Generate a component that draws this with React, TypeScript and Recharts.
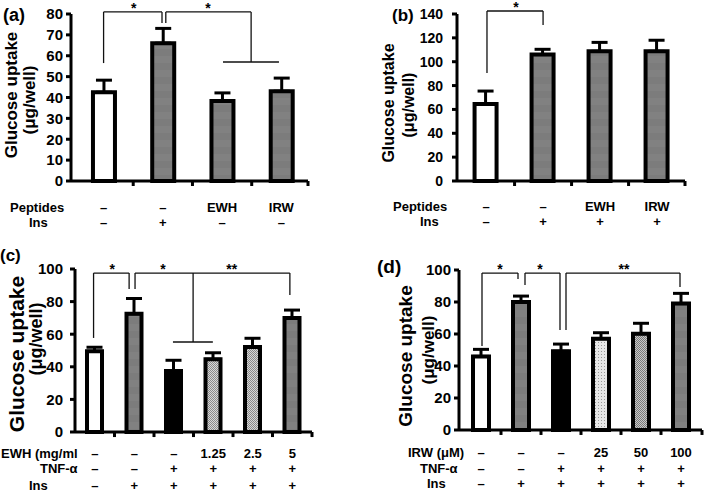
import React from 'react';
import { BarChart, Bar, XAxis, YAxis, ErrorBar, Cell, ReferenceLine, ReferenceDot } from 'recharts';

const FONT = '"Liberation Sans", Arial, Helvetica, sans-serif';

// ---------- Panel (a) ----------
const groupsA = [1, 2, 3, 4];
const uptakeA = [42.5, 66, 38.3, 43];
const errorA = [5.8, 7.1, 3.9, 6.3];
const peptidesA = ['–', '–', 'EWH', 'IRW'];
const insA = ['–', '+', '–', '–'];
const yTicksA = [0, 10, 20, 30, 40, 50, 60, 70, 80];
const bracketsA = [
  [1.0, 56.5, 1.0, 81], [1.0, 81, 1.986, 81], [1.986, 81, 1.986, 75.7],
  [2.05, 75.7, 2.05, 81], [2.05, 81, 3.49, 81], [3.49, 81, 3.49, 57], [3.015, 57, 3.96, 57],
];
const starsA: [number, number, string][] = [[1.51, 81, '*'], [2.76, 81, '*']];

// ---------- Panel (b) ----------
const groupsB = [1, 2, 3, 4];
const uptakeB = [64.5, 106, 108.7, 108.7];
const errorB = [10.9, 4.4, 7.5, 9.3];
const peptidesB = ['–', '–', 'EWH', 'IRW'];
const insB = ['–', '+', '+', '+'];
const yTicksB = [0, 20, 40, 60, 80, 100, 120, 140];
const bracketsB = [
  [1.016, 90.5, 1.016, 142.5], [1.016, 142.5, 2.0, 142.5], [2.0, 142.5, 2.0, 130.8],
];
const starsB: [number, number, string][] = [[1.525, 142.5, '*']];

// ---------- Panel (c) ----------
const groupsC = [1, 2, 3, 4, 5, 6];
const uptakeC = [49.5, 72.5, 37.5, 44.6, 52.1, 70];
const errorC = [2.5, 9.4, 6.5, 4, 5.4, 4.8];
const ewhC = ['–', '–', '–', '1.25', '2.5', '5'];
const tnfC = ['–', '–', '+', '+', '+', '+'];
const insC = ['–', '+', '+', '+', '+', '+'];
const yTicksC = [0, 20, 40, 60, 80, 100];
const bracketsC = [
  [0.97, 57.7, 0.97, 97.5], [0.97, 97.5, 1.87, 97.5], [1.87, 97.5, 1.87, 87.7],
  [2.02, 87.7, 2.02, 97.5], [2.02, 97.5, 5.94, 97.5], [5.94, 97.5, 5.94, 84],
  [3.49, 97.5, 3.49, 55.2], [2.98, 55.2, 3.99, 55.2],
];
const starsC: [number, number, string][] = [[1.44, 97.5, '*'], [2.73, 97.5, '*'], [4.47, 97.5, '**']];

// ---------- Panel (d) ----------
const groupsD = [1, 2, 3, 4, 5, 6];
const uptakeD = [46, 80, 49.2, 57.1, 60.2, 79];
const errorD = [4.4, 3.7, 4.5, 3.7, 6.5, 6.4];
const irwD = ['–', '–', '–', '25', '50', '100'];
const tnfD = ['–', '–', '+', '+', '+', '+'];
const insD = ['–', '+', '+', '+', '+', '+'];
const yTicksD = [0, 20, 40, 60, 80, 100];
const bracketsD = [
  [1.025, 52.5, 1.025, 98.1], [1.025, 98.1, 1.925, 98.1], [1.925, 98.1, 1.925, 94.4],
  [2.1, 90.6, 2.1, 98.1], [2.1, 98.1, 2.975, 98.1], [2.975, 98.1, 2.975, 62.5],
  [3.125, 62.5, 3.125, 98.1], [3.125, 98.1, 5.975, 98.1], [5.975, 98.1, 5.975, 89.4],
];
const starsD: [number, number, string][] = [[1.475, 98.1, '*'], [2.475, 98.1, '*'], [4.575, 98.1, '**']];

// ---------- Styles ----------
const fillsA = ['#ffffff', 'url(#grayBand)', 'url(#grayBand)', 'url(#grayBand)'];
const fillsB = ['#ffffff', 'url(#grayBand)', 'url(#grayBand)', 'url(#grayBand)'];
const fillsC = ['#ffffff', 'url(#grayBand)', '#000000', 'url(#chkLight)', 'url(#chkLight)', 'url(#grayBand)'];
const fillsD = ['#ffffff', 'url(#grayBand)', '#000000', 'url(#dotLight)', 'url(#chkMid)', 'url(#grayBand)'];

const build = (groups: number[], vals: number[], errs: number[]) =>
  groups.map((g, i) => ({ g, v: vals[i], e: [0, errs[i]] }));

const makeRowTick = (rows: string[][], rowYs: number[]) => (props: any) => {
  const idx = Math.round(props.payload.value) - 1;
  return (
    <g>
      {rows.map((r, i) => (
        <text key={i} x={props.x} y={rowYs[i]} textAnchor="middle" dominantBaseline="central"
          fontSize={13} fontWeight="bold" fontFamily={FONT} fill="#000">{r[idx]}</text>
      ))}
    </g>
  );
};

type PanelProps = {
  left: number; top: number; width: number; height: number;
  yAxisWidth: number; marginTop: number; marginRight: number; axisHeight: number;
  xDomain: [number, number]; xBounds: number[]; tickLen: number; groups: number[];
  yDomain: [number, number]; yTicks: number[]; tickFont: number; tickMargin: number;
  data: any[]; fills: string[]; barSize: number;
  brackets: number[][]; stars: [number, number, string][];
  rows: string[][]; rowYs: number[];
};

function Panel(p: PanelProps) {
  return (
    <div style={{ position: 'absolute', left: p.left, top: p.top, width: p.width, height: p.height }}>
      <BarChart width={p.width} height={p.height} data={p.data}
        margin={{ top: p.marginTop, right: p.marginRight, bottom: 0, left: 0 }}>
        <XAxis dataKey="g" type="number" domain={p.xDomain} ticks={p.groups} interval={0}
          allowDataOverflow axisLine={{ stroke: '#000', strokeWidth: 3 }} tickLine={false}
          height={p.axisHeight} tick={makeRowTick(p.rows, p.rowYs)} />
        <YAxis type="number" domain={p.yDomain} ticks={p.yTicks} interval={0} width={p.yAxisWidth}
          axisLine={{ stroke: '#000', strokeWidth: 3 }} tickLine={{ stroke: '#000', strokeWidth: 3 }}
          tickSize={5} tickMargin={p.tickMargin}
          tick={{ fontSize: p.tickFont, fontWeight: 'bold', fill: '#000', fontFamily: FONT }} />
        {p.xBounds.map((b, i) => (
          <ReferenceLine key={'t' + i} ifOverflow="visible"
            segment={[{ x: b, y: 0 }, { x: b, y: -p.tickLen }]} stroke="#000" strokeWidth={3} />
        ))}
        <Bar dataKey="v" barSize={p.barSize} stroke="#000" strokeWidth={4} isAnimationActive={false}>
          {p.fills.map((f, i) => <Cell key={i} fill={f} />)}
          <ErrorBar dataKey="e" direction="y" width={8} strokeWidth={3} stroke="#000" />
        </Bar>
        {p.brackets.map((s, i) => (
          <ReferenceLine key={'b' + i} ifOverflow="visible"
            segment={[{ x: s[0], y: s[1] }, { x: s[2], y: s[3] }]} stroke="#111" strokeWidth={1.3} />
        ))}
        {p.stars.map((s, i) => (
          <ReferenceDot key={'s' + i} x={s[0]} y={s[1]} r={0} ifOverflow="visible"
            shape={(sp: any) => (
              <text x={sp.cx} y={sp.cy + 1} textAnchor="middle" fontSize={14} fontWeight="bold"
                fontFamily={FONT} fill="#000">{s[2]}</text>
            )} />
        ))}
      </BarChart>
    </div>
  );
}

const txt = (x: number, y: number, s: string, size: number, anchor = 'start') => (
  <text x={x} y={y} fontSize={size} fontWeight="bold" fontFamily={FONT} fill="#000"
    textAnchor={anchor} dominantBaseline="central">{s}</text>
);
const vtxt = (cx: number, cy: number, s: string, size: number) => (
  <text transform={`translate(${cx},${cy}) rotate(-90)`} fontSize={size} fontWeight="bold" fontFamily={FONT}
    fill="#000" textAnchor="middle" dominantBaseline="central">{s}</text>
);

export default function App() {
  return (
    <div style={{ position: 'absolute', left: 0, top: 0, width: 704, height: 492, background: '#fff', overflow: 'hidden' }}>
      <svg width={704} height={492} style={{ position: 'absolute', left: 0, top: 0 }}>
        <defs>
          <pattern id="grayBand" width="4" height="14" patternUnits="userSpaceOnUse">
            <rect width="4" height="14" fill="#818181" />
            <rect y="7" width="4" height="7" fill="#7c7c7c" />
          </pattern>
          <pattern id="chkLight" width="2" height="2" patternUnits="userSpaceOnUse">
            <rect width="2" height="2" fill="#d8d8d8" />
            <rect width="1" height="1" fill="#8a8a8a" />
            <rect x="1" y="1" width="1" height="1" fill="#8a8a8a" />
          </pattern>
          <pattern id="chkMid" width="2" height="2" patternUnits="userSpaceOnUse">
            <rect width="2" height="2" fill="#c8c8c8" />
            <rect width="1" height="1" fill="#7a7a7a" />
            <rect x="1" y="1" width="1" height="1" fill="#7a7a7a" />
          </pattern>
          <pattern id="dotLight" width="3" height="3" patternUnits="userSpaceOnUse">
            <rect width="3" height="3" fill="#e8e8e8" />
            <rect width="1" height="1" fill="#9a9a9a" />
          </pattern>
        </defs>
      </svg>

      <Panel left={0} top={0} width={352} height={240} yAxisWidth={71} marginTop={14} marginRight={44}
        axisHeight={59} xDomain={[0.45, 4.45]} xBounds={[1.5, 2.5, 3.5, 4.45]} tickLen={2.4} groups={groupsA}
        yDomain={[0, 80]} yTicks={yTicksA} tickFont={15} tickMargin={3}
        data={build(groupsA, uptakeA, errorA)} fills={fillsA} barSize={22}
        brackets={bracketsA} stars={starsA} rows={[peptidesA, insA]} rowYs={[207, 222]} />

      <Panel left={352} top={0} width={352} height={240} yAxisWidth={105} marginTop={14} marginRight={19}
        axisHeight={59} xDomain={[0.49, 4.49]} xBounds={[1.5, 2.5, 3.5, 4.49]} tickLen={4.2} groups={groupsB}
        yDomain={[0, 140]} yTicks={yTicksB} tickFont={14} tickMargin={9}
        data={build(groupsB, uptakeB, errorB)} fills={fillsB} barSize={22}
        brackets={bracketsB} stars={starsB} rows={[peptidesB, insB]} rowYs={[206, 221]} />

      <Panel left={0} top={240} width={352} height={252} yAxisWidth={75} marginTop={29} marginRight={40}
        axisHeight={60} xDomain={[0.5, 6.5]} xBounds={[1.5, 2.5, 3.5, 4.5, 5.5, 6.5]} tickLen={3.1} groups={groupsC}
        yDomain={[0, 100]} yTicks={yTicksC} tickFont={15} tickMargin={7}
        data={build(groupsC, uptakeC, errorC)} fills={fillsC} barSize={15}
        brackets={bracketsC} stars={starsC} rows={[ewhC, tnfC, insC]} rowYs={[213, 228, 245]} />

      <Panel left={352} top={240} width={352} height={252} yAxisWidth={107} marginTop={30} marginRight={2}
        axisHeight={62} xDomain={[0.45, 6.525]} xBounds={[1.5, 2.5, 3.5, 4.5, 5.5, 6.525]} tickLen={3.1} groups={groupsD}
        yDomain={[0, 100]} yTicks={yTicksD} tickFont={15} tickMargin={3}
        data={build(groupsD, uptakeD, errorD)} fills={fillsD} barSize={16}
        brackets={bracketsD} stars={starsD} rows={[irwD, tnfD, insD]} rowYs={[212, 228, 243]} />

      <svg width={704} height={492} style={{ position: 'absolute', left: 0, top: 0, pointerEvents: 'none' }}>
        {txt(3, 15, '(a)', 18)}
        {txt(392, 15, '(b)', 17)}
        {txt(0, 255, '(c)', 17)}
        {txt(377, 266, '(d)', 19)}

        {vtxt(11, 95, 'Glucose uptake', 17)}
        {vtxt(29, 100, '(μg/well)', 17)}
        {vtxt(388, 103, 'Glucose uptake', 16)}
        {vtxt(408, 105, '(μg/well)', 16)}
        {vtxt(16, 354, 'Glucose uptake', 21)}
        {vtxt(36, 339, '(μg/well)', 18)}
        {vtxt(405, 356, 'Glucose uptake', 19)}
        {vtxt(428, 350, '(μg/well)', 17)}

        {txt(10, 207, 'Peptides', 13)}
        {txt(29, 222, 'Ins', 13)}
        {txt(393, 206, 'Peptides', 13)}
        {txt(420, 221, 'Ins', 13)}
        {txt(1, 453, 'EWH (mg/ml', 13)}
        {txt(40, 468, 'TNF-α', 13)}
        {txt(29, 485, 'Ins', 13)}
        {txt(408, 452, 'IRW (μM)', 13)}
        {txt(420, 468, 'TNF-α', 13)}
        {txt(427, 483, 'Ins', 13)}
      </svg>
    </div>
  );
}
